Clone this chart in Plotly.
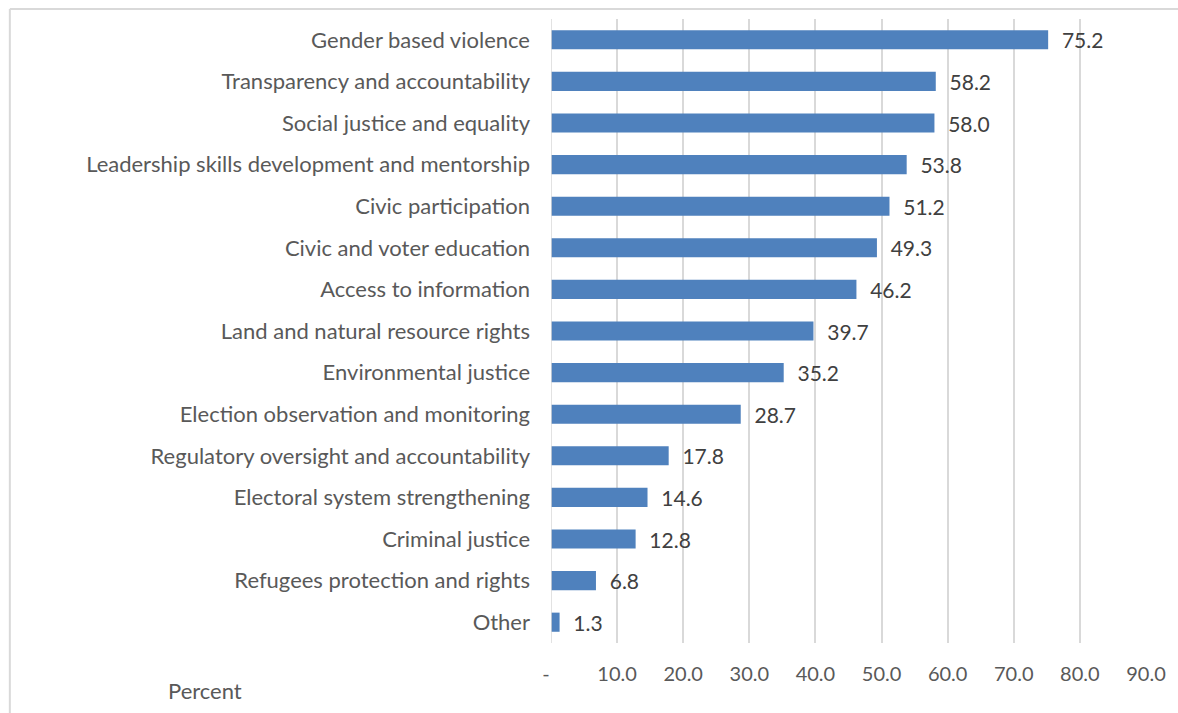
import plotly.graph_objects as go

categories = [
    "Gender based violence",
    "Transparency and accountability",
    "Social justice and equality",
    "Leadership skills development and mentorship",
    "Civic participation",
    "Civic and voter education",
    "Access to information",
    "Land and natural resource rights",
    "Environmental justice",
    "Election observation and monitoring",
    "Regulatory oversight and accountability",
    "Electoral system strengthening",
    "Criminal justice",
    "Refugees protection and rights",
    "Other",
]
percent = [75.2, 58.2, 58.0, 53.8, 51.2, 49.3, 46.2, 39.7, 35.2, 28.7, 17.8, 14.6, 12.8, 6.8, 1.3]
tick_vals = [0, 10, 20, 30, 40, 50, 60, 70, 80, 90]
tick_text = ["-  ", "10.0", "20.0", "30.0", "40.0", "50.0", "60.0", "70.0", "80.0", "90.0"]

FONT = "Lato, 'Open Sans', sans-serif"
GREY = "#595959"
GRID = "#D9D9D9"

fig = go.Figure()
fig.add_trace(
    go.Bar(
        x=percent,
        y=categories,
        orientation="h",
        marker={"color": "#4F81BD", "line": {"width": 0}},
        text=[f"  {v:.1f}" for v in percent],
        textposition="outside",
        constraintext="none",
        textfont={"family": FONT, "size": 21, "color": "#404040"},
        cliponaxis=False,
        width=0.46,
        hoverinfo="skip",
    )
)

fig.update_layout(
    width=1178,
    height=713,
    paper_bgcolor="white",
    plot_bgcolor="white",
    showlegend=False,
    margin={"l": 551, "r": 30, "t": 19, "b": 70},
    font={"family": FONT, "size": 21, "color": GREY},
    xaxis={
        "range": [0, 90],
        "tickvals": tick_vals,
        "ticktext": tick_text,
        "showgrid": True,
        "gridcolor": GRID,
        "gridwidth": 1.5,
        "zeroline": False,
        "showline": False,
        "ticks": "",
        "ticklabelstandoff": 17,
        "tickfont": {"size": 20, "color": GREY},
    },
    yaxis={
        "autorange": "reversed",
        "showgrid": False,
        "zeroline": False,
        "showline": False,
        "ticks": "",
        "ticklabelstandoff": 20,
        "tickfont": {"size": 22, "color": GREY},
    },
    shapes=[
        # chart border (only left and top visible in the crop)
        {"type": "line", "xref": "paper", "yref": "paper", "x0": -0.9095, "x1": -0.9095,
         "y0": -0.2, "y1": 1.016, "line": {"color": GRID, "width": 2}},
        {"type": "line", "xref": "paper", "yref": "paper", "x0": -0.9095, "x1": 1.2,
         "y0": 1.016, "y1": 1.016, "line": {"color": GRID, "width": 2}},
        # value axis line at zero
        {"type": "line", "xref": "x", "yref": "paper", "x0": 0, "x1": 0,
         "y0": 0, "y1": 1, "line": {"color": GRID, "width": 1.5}},
    ],
    annotations=[
        {
            "text": "Percent",
            "xref": "paper",
            "yref": "paper",
            "x": -0.6466,
            "y": -0.0756,
            "xanchor": "left",
            "yanchor": "middle",
            "showarrow": False,
            "font": {"size": 22, "color": GREY},
        }
    ],
)

fig.write_html(
    "out.html",
    config={"displayModeBar": False},
    post_script="document.body.style.margin='0';",
)
